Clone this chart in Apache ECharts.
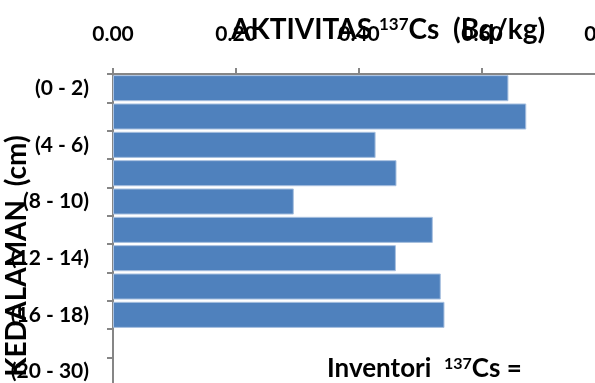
<!DOCTYPE html>
<html>
<head>
<meta charset="utf-8">
<script src="https://cdn.jsdelivr.net/npm/echarts@6/dist/echarts.min.js"></script>
<style>
    html, body { margin: 0; padding: 0; background: #fff; }
    #chart { width: 595px; height: 383px; }
</style>
</head>
<body>
<div id="chart"></div>
<script>
// depth intervals (cm), top to bottom
const depthLabels = ["(0 - 2)", "(2 - 4)", "(4 - 6)", "(6 - 8)", "(8 - 10)", "(10 - 12)",
    "(12 - 14)", "(14 - 16)", "(16 - 18)", "(18 - 20)", "(20 - 30)"];
// 137Cs activity (Bq/kg)
const activity = [0.643, 0.672, 0.427, 0.461, 0.294, 0.520, 0.460, 0.533, 0.539, null, null];
const axisMin = 0;
const axisMax = 0.8;
const axisStep = 0.2;

const font = "Lato";
const chartDom = document.getElementById("chart");
const myChart = echarts.init(chartDom, null, { renderer: "canvas" });

let option = {
    animation: false,
    title: [
        {
            text: "{b|AKTIVITAS }{s|137}{b|Cs  (Bq/kg)}",
            left: 226,
            top: 11,
            textStyle: {
                rich: {
                    b: { fontFamily: font, fontWeight: "bold", fontSize: 28, color: "#000" },
                    s: { fontFamily: font, fontWeight: "bold", fontSize: 17, color: "#000", verticalAlign: "top" }
                }
            }
        },
        {
            text: "{b|Inventori  }{s|137}{b|Cs =}",
            left: 322,
            top: 351,
            textStyle: {
                rich: {
                    b: { fontFamily: font, fontWeight: "bold", fontSize: 26, color: "#000" },
                    s: { fontFamily: font, fontWeight: "bold", fontSize: 16, color: "#000", verticalAlign: "top" }
                }
            }
        }
    ],
    graphic: [
        {
            type: "text",
            x: 17,
            y: 256,
            rotation: Math.PI / 2,
            style: {
                text: "KEDALAMAN  (cm)",
                font: "bold 28px " + font,
                fill: "#000",
                textAlign: "center",
                textVerticalAlign: "middle"
            }
        }
    ],
    grid: {
        left: 113,
        top: 74,
        width: 492,
        height: 311.7,
        outerBoundsMode: "none",
        containLabel: false
    },
    xAxis: {
        type: "value",
        position: "top",
        min: axisMin,
        max: axisMax,
        interval: axisStep,
        axisLine: { show: true, lineStyle: { color: "#868686", width: 2 } },
        axisTick: { show: true, length: 6, lineStyle: { color: "#868686", width: 2 } },
        splitLine: { show: false },
        axisLabel: {
            margin: 29,
            fontFamily: font,
            fontWeight: "bold",
            fontSize: 21,
            color: "#000",
            hideOverlap: false,
            formatter: value => value.toFixed(2)
        }
    },
    yAxis: {
        type: "category",
        inverse: true,
        data: depthLabels,
        axisLine: { show: true, onZero: false, lineStyle: { color: "#868686", width: 2 } },
        axisTick: { show: true, length: 6, interval: 0, lineStyle: { color: "#868686", width: 2 } },
        axisLabel: {
            interval: 1,
            margin: 24,
            fontFamily: font,
            fontWeight: "bold",
            fontSize: 21,
            color: "#000"
        }
    },
    series: [
        {
            type: "bar",
            data: activity,
            barCategoryGap: "8%",
            itemStyle: {
                color: "#4F81BD",
                borderColor: "#A9C1E0",
                borderWidth: 1
            }
        }
    ]
};
myChart.setOption(option);
</script>
</body>
</html>
